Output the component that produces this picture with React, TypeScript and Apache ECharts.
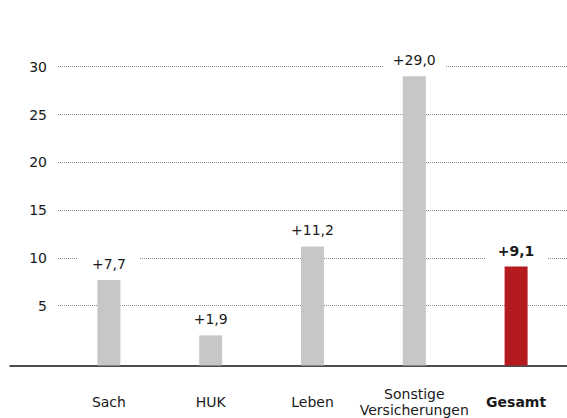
import React, { useEffect, useRef } from "react";
import * as echarts from "echarts";

const CATEGORIES = ["Sach", "HUK", "Leben", "Sonstige\nVersicherungen", "Gesamt"];
const VALUES = [7.7, 1.9, 11.2, 29.0, 9.1];
const TICKS = [5, 10, 15, 20, 25, 30];
const HIGHLIGHT_INDEX = 4;

const Y_MIN = -1.25;
const Y_MAX = 32;
const GRAY = "#c6c7c6";
const RED = "#b31b1f";
const TEXT = "#1a1a1a";
const FONT = "'DejaVu Sans', sans-serif";

const fmt = (v: number) => "+" + v.toFixed(1).replace(".", ",");

export default function App() {
  const ref = useRef<HTMLDivElement>(null);
  useEffect(() => {
    if (!ref.current) return;
    const chart = echarts.init(ref.current, undefined, { renderer: "svg" });
    chart.setOption({
      animation: false,
      backgroundColor: "#ffffff",
      grid: [
        { left: 58, right: 0, top: 47.6, bottom: 52.5, containLabel: false, outerBoundsMode: "none" },
        { left: 10, right: 0, top: 300, bottom: 52.5, containLabel: false, outerBoundsMode: "none" },
      ],
      xAxis: [
        {
          type: "category",
          gridIndex: 0,
          data: CATEGORIES,
          axisLine: { show: false },
          axisTick: { show: false },
          splitLine: { show: false },
          axisLabel: {
            interval: 0,
            margin: 36,
            verticalAlign: "middle",
            lineHeight: 16,
            fontSize: 14,
            fontFamily: FONT,
            color: TEXT,
            formatter: (v: string, i: number) =>
              i === HIGHLIGHT_INDEX ? `{b|${v}}` : v,
            rich: {
              b: { fontWeight: "bold", fontSize: 14, fontFamily: FONT, color: TEXT, lineHeight: 16 },
            },
          },
        },
        {
          type: "value",
          gridIndex: 1,
          axisLine: { show: true, onZero: false, lineStyle: { color: "#111", width: 1.5 } },
          axisTick: { show: false },
          axisLabel: { show: false },
          splitLine: { show: false },
        },
      ],
      yAxis: [
        {
          type: "value",
          gridIndex: 0,
          min: Y_MIN,
          max: Y_MAX,
          splitNumber: 7,
          axisLine: { show: false },
          axisTick: { show: false },
          splitLine: { show: false },
          axisLabel: {
            margin: 11,
            fontSize: 14,
            fontFamily: FONT,
            color: TEXT,
            formatter: (v: number) => (TICKS.includes(v) ? String(v) : ""),
          },
        },
        { type: "value", gridIndex: 1, show: false },
      ],
      series: [
        {
          type: "line",
          xAxisIndex: 0,
          yAxisIndex: 0,
          data: [],
          z: 1,
          silent: true,
          markLine: {
            z: 1,
            silent: true,
            symbol: ["none", "none"],
            label: { show: false },
            lineStyle: { type: [1, 1], color: "#8a8a8a", width: 1 },
            data: TICKS.map((t) => ({ yAxis: t })),
          },
        },
        {
          type: "custom",
          xAxisIndex: 0,
          yAxisIndex: 0,
          z: 3,
          silent: true,
          encode: { x: 0, y: 1 },
          data: VALUES.map((v, i) => [i, v]),
          renderItem: (params: any, api: any) => {
            const idx = params.dataIndex;
            const v = api.value(1);
            const top = api.coord([api.value(0), v]);
            const cs = params.coordSys;
            const bottom = cs.y + cs.height;
            const w = 23;
            const hl = idx === HIGHLIGHT_INDEX;
            return {
              type: "rect",
              shape: { x: top[0] - w / 2, y: top[1], width: w, height: bottom - top[1] },
              style: { fill: hl ? RED : GRAY },
              textContent: {
                style: {
                  text: fmt(v),
                  fill: TEXT,
                  fontSize: 14,
                  fontFamily: FONT,
                  fontWeight: hl ? "bold" : "normal",
                  backgroundColor: "#ffffff",
                  width: 62,
                  align: "center",
                  padding: [3, 0, 4, 0],
                },
              },
              textConfig: { position: "top", distance: 5 },
            };
          },
        },
      ],
    });
    return () => chart.dispose();
  }, []);
  return (
    <div
      ref={ref}
      style={{ position: "fixed", left: 0, top: 0, width: 567, height: 418 }}
    />
  );
}
